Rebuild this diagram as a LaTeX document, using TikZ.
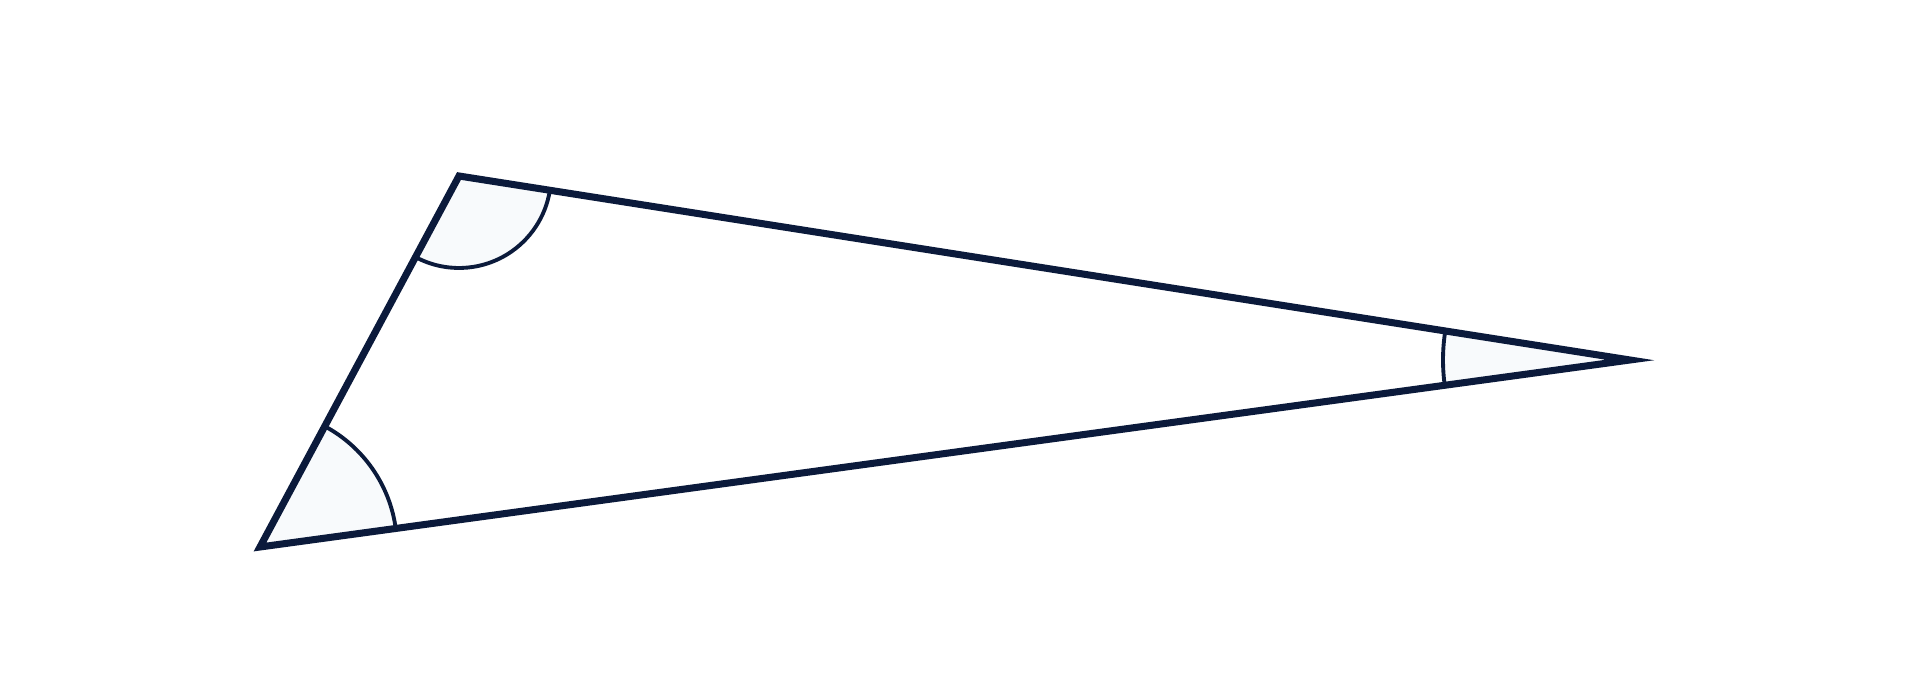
\documentclass[tikz,border=0pt]{standalone}
\usepackage{tikz}
\definecolor{navy}{HTML}{0B1A3B}
\definecolor{paleblue}{HTML}{F8FAFC}
\tikzstyle{side}=[line width=2pt, color=navy, line join=miter]
\tikzstyle{wedge}=[line width=1.1pt, draw=navy]

\begin{document}
\begin{tikzpicture}[x=0.01cm, y=0.01cm]
    \useasboundingbox (0,0) rectangle (1920,700);
    % corners of the triangle
    \coordinate (A) at (260,153);
    \coordinate (B) at (459,524);
    \coordinate (C) at (1630,340);

    % angle marks, using a loop
    \foreach \v/\a/\b/\r in {A/7.77/61.8/137, B/241.8/351.07/92, C/171.07/187.77/187}{
      \fill[paleblue] (\v) -- ++(\a:\r) arc[start angle=\a, end angle=\b, radius=\r] -- cycle;
      \draw[wedge] (\v) ++(\a:\r) arc[start angle=\a, end angle=\b, radius=\r];
    }
    % the sides
    \draw[side] (A) -- (B) -- (C) -- cycle;
  \end{tikzpicture}
\end{document}
